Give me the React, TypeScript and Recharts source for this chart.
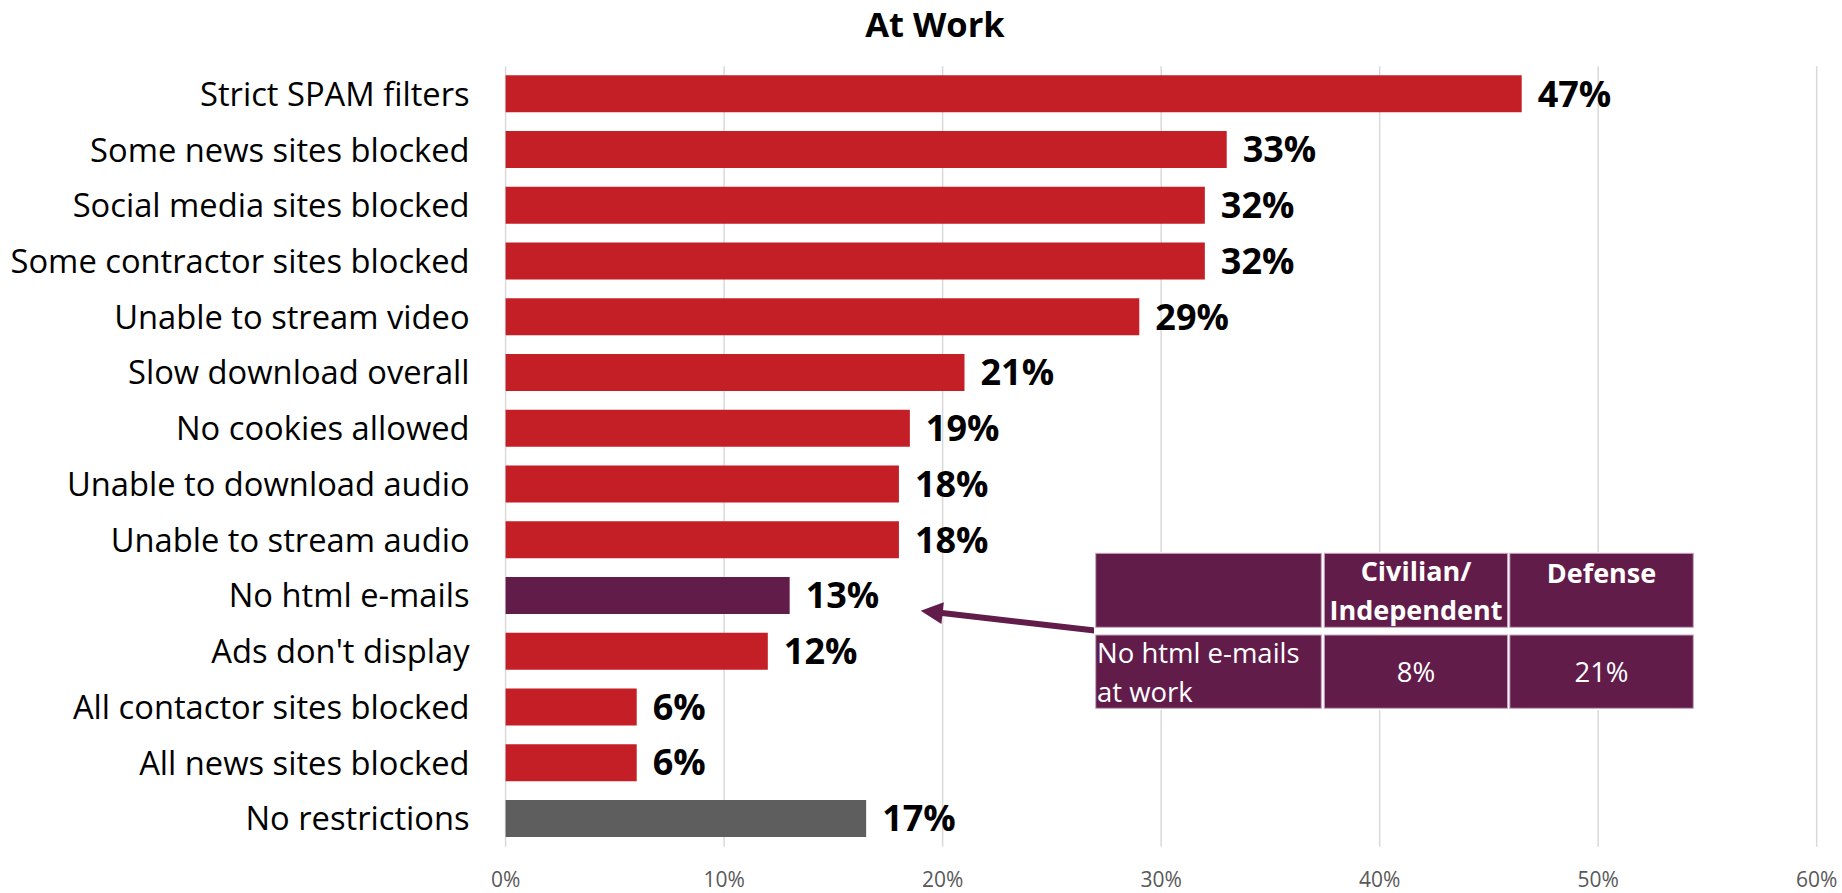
import React from 'react';
import { BarChart, Bar, XAxis, YAxis, CartesianGrid, Cell, LabelList } from 'recharts';

const categories = [
  'Strict SPAM filters',
  'Some news sites blocked',
  'Social media sites blocked',
  'Some contractor sites blocked',
  'Unable to stream video',
  'Slow download overall',
  'No cookies allowed',
  'Unable to download audio',
  'Unable to stream audio',
  'No html e-mails',
  "Ads don't display",
  'All contactor sites blocked',
  'All news sites blocked',
  'No restrictions',
];

// bar lengths in percent
const values = [46.5, 33, 32, 32, 29, 21, 18.5, 18, 18, 13, 12, 6, 6, 16.5];

const xTicks = [0, 10, 20, 30, 40, 50, 60];

const tableColumns = ['Civilian/', 'Independent'];
const tableSecondColumn = 'Defense';
const tableRowLabel = ['No html e-mails', 'at work'];
const tableValues = ['8%', '21%'];

const highlighted = 'No html e-mails';
const baseline = 'No restrictions';

const RED = '#C41F27';
const PURPLE = '#621C4A';
const GRAY = '#5E5E5E';
const FONT = '"Open Sans", Lato, sans-serif';

const data = categories.map((name, i) => ({ name, value: values[i] }));

const colorFor = (name: string) =>
  name === highlighted ? PURPLE : name === baseline ? GRAY : RED;

const Overlay = () => (
  <svg
    width={1842}
    height={893}
    style={{ position: 'absolute', left: 0, top: 0, pointerEvents: 'none' }}
  >
    <text x={935} y={37} textAnchor="middle" fontFamily={FONT} fontWeight={700} fontSize={34.5} fill="#000">
      At Work
    </text>

    {/* arrow from the table to the highlighted bar */}
    <line x1={1099} y1={631} x2={940} y2={612.8} stroke={PURPLE} strokeWidth={6} />
    <polygon points="920.7,610.7 943.8,602.3 941.4,624.1" fill={PURPLE} />

    {/* breakout table */}
    <rect x={1094} y={552} width={601} height={158} fill="#fff" />
    <g fill={PURPLE} stroke="#C9A7BE" strokeWidth={1}>
      <rect x={1095.7} y={553.3} width={225.6} height={74} />
      <rect x={1324.3} y={553.3} width={183.3} height={74} />
      <rect x={1509.8} y={553.3} width={183.5} height={74} />
      <rect x={1095.7} y={635} width={225.6} height={73.3} />
      <rect x={1324.3} y={635} width={183.3} height={73.3} />
      <rect x={1509.8} y={635} width={183.5} height={73.3} />
    </g>
    <g fontFamily={FONT} fill="#fff">
      <g fontSize={27} fontWeight={700}>
        <text x={1416} y={581} textAnchor="middle">{tableColumns[0]}</text>
        <text x={1416} y={620} textAnchor="middle">{tableColumns[1]}</text>
        <text x={1601.5} y={583} textAnchor="middle">{tableSecondColumn}</text>
      </g>
      <g fontSize={27.5}>
        <text x={1097} y={663}>{tableRowLabel[0]}</text>
        <text x={1097} y={702}>{tableRowLabel[1]}</text>
        <text x={1416} y={682} textAnchor="middle">{tableValues[0]}</text>
        <text x={1601.5} y={682} textAnchor="middle">{tableValues[1]}</text>
      </g>
    </g>
  </svg>
);

export default function App() {
  return (
    <div style={{ position: 'absolute', left: 0, top: 0, width: 1842, height: 893, background: '#fff' }}>
      <BarChart
        width={1842}
        height={893}
        data={data}
        layout="vertical"
        margin={{ top: 66.3, right: 25.3, bottom: 0, left: 0 }}
      >
        <CartesianGrid horizontal={false} stroke="#D9D9D9" strokeWidth={1.5} />
        <XAxis
          type="number"
          domain={[0, 60]}
          ticks={xTicks}
          tickFormatter={(v: number) => `${v}%`}
          axisLine={false}
          tickLine={false}
          tickSize={0}
          tickMargin={25}
          height={46.3}
          tick={{ fill: '#595959', fontSize: 21, fontFamily: FONT }}
        />
        <YAxis
          type="category"
          dataKey="name"
          width={505.6}
          interval={0}
          axisLine={false}
          tickLine={false}
          tickSize={0}
          tickMargin={36}
          tick={{ fill: '#000', fontSize: 32.7, fontFamily: FONT }}
        />
        <Bar dataKey="value" barSize={37} isAnimationActive={false}>
          {data.map((d) => (
            <Cell key={d.name} fill={colorFor(d.name)} />
          ))}
          <LabelList
            dataKey="value"
            position="right"
            offset={16}
            formatter={(v: number) => `${Math.round(v)}%`}
            fill="#000"
            style={{ fontFamily: FONT, fontWeight: 700, fontSize: 36 }}
          />
        </Bar>
      </BarChart>
      <Overlay />
    </div>
  );
}
